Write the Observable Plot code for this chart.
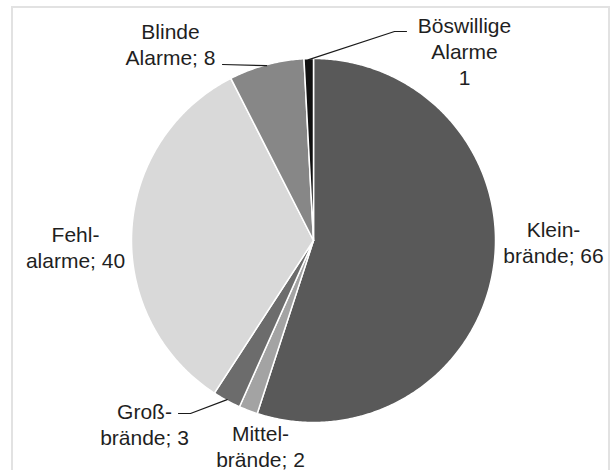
<!DOCTYPE html>
<html>
<head>
<meta charset="utf-8">
<script src="https://cdn.jsdelivr.net/npm/d3@7"></script>
<script src="https://cdn.jsdelivr.net/npm/@observablehq/plot@0.6"></script>
<style>
  html, body { margin: 0; padding: 0; background: #fff; }
  #wrap { position: relative; width: 615px; height: 470px; overflow: hidden; }
  #border { position: absolute; left: 11px; top: 6px; width: 599px; height: 480px; border: 2px solid #e2e2e2; box-sizing: border-box; }
  #chart { position: absolute; left: 0; top: 0; }
</style>
</head>
<body>
<div id="wrap"><div id="border"></div><div id="chart"></div></div>
<script>
// ---- data ----
const categories = ["Klein-brände", "Mittel-brände", "Groß-brände", "Fehlalarme", "Blinde Alarme", "Böswillige Alarme"];
const values = [66, 2, 3, 40, 8, 1];
const labels = ["Klein-\nbrände; 66", "Mittel-\nbrände; 2", "Groß-\nbrände; 3", "Fehl-\nalarme; 40", "Blinde\nAlarme; 8", "Böswillige\nAlarme\n1"];
const colors = ["#595959", "#a3a3a3", "#6c6c6c", "#d9d9d9", "#878787", "#111111"];

// ---- layout (pixels) ----
const W = 615, H = 470;
const cx = 313, cy = 240, R = 182;
const fontSize = 21;
// label anchor: center x, baseline of first line; optional leader start/elbow
const labelLayout = {
  "Klein-brände":      {x: 553, y: 233},
  "Mittel-brände":     {x: 260, y: 437},
  "Groß-brände":       {x: 144, y: 415, leader: [[178, 413], [190, 413]]},
  "Fehlalarme":        {x: 75,  y: 238},
  "Blinde Alarme":     {x: 170, y: 35,  leader: [[222, 64]]},
  "Böswillige Alarme": {x: 464, y: 29,  leader: [[406, 31], [394, 31]]}
};

const rows = categories.map((c, i) => ({category: c, value: values[i], label: labels[i]}));
const arcs = d3.pie().sort(null).value(d => d.value)(rows);

const pt = (a, r = R) => [cx + r * Math.sin(a), cy - r * Math.cos(a)];

// slice polygons
const slicePts = [];
for (const a of arcs) {
  const c = a.data.category;
  slicePts.push({category: c, x: cx, y: cy});
  const n = Math.max(2, Math.ceil((a.endAngle - a.startAngle) / (Math.PI / 360)));
  for (let k = 0; k <= n; k++) {
    const t = a.startAngle + (a.endAngle - a.startAngle) * k / n;
    const [x, y] = pt(t);
    slicePts.push({category: c, x, y});
  }
}

// label rows
const textRows = arcs.map(a => {
  const L = labelLayout[a.data.category];
  return {label: a.data.label, x: L.x, y: L.y - 0.71 * fontSize};
});

// leader lines
const leaderPts = [];
for (const a of arcs) {
  const L = labelLayout[a.data.category];
  if (!L.leader) continue;
  L.leader.forEach(([x, y]) => leaderPts.push({category: a.data.category, x, y}));
  const [ex, ey] = pt((a.startAngle + a.endAngle) / 2, R - 1);
  leaderPts.push({category: a.data.category, x: ex, y: ey});
}

const chart = Plot.plot({
  width: W, height: H,
  margin: 0,
  x: {domain: [0, W], range: [0, W], axis: null},
  y: {domain: [0, H], range: [0, H], axis: null},
  color: {domain: categories, range: colors},
  style: {fontFamily: "'Liberation Sans', Arial, sans-serif", background: "transparent"},
  marks: [
    Plot.line(slicePts, {x: "x", y: "y", z: "category", fill: "category", stroke: "#fff", strokeWidth: 1.5, curve: "linear-closed"}),
    Plot.line(leaderPts, {x: "x", y: "y", z: "category", stroke: "#1a1a1a", strokeWidth: 1.2}),
    Plot.text(textRows, {x: "x", y: "y", text: "label", fontSize, lineHeight: 26 / fontSize, lineAnchor: "top", textAnchor: "middle", fill: "#1f1f1f"})
  ]
});
document.getElementById("chart").appendChild(chart);
</script>
</body>
</html>
